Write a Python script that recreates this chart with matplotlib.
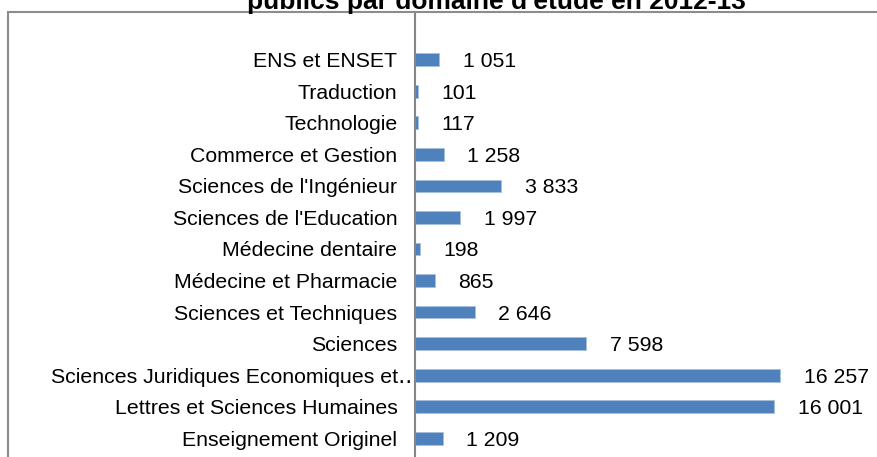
# Répartition des étudiants par domaine d'étude, 2012-13
import matplotlib
matplotlib.use('Agg')
from matplotlib import pyplot as plt
from matplotlib.patches import Rectangle

plt.rcParams['font.family'] = ['Liberation Sans', 'DejaVu Sans']

# données (de bas en haut)
domaines = [
    "Enseignement Originel",
    "Lettres et Sciences Humaines",
    "Sciences Juridiques Economiques et\u2025",
    "Sciences",
    "Sciences et Techniques",
    "Médecine et Pharmacie",
    "Médecine dentaire",
    "Sciences de l'Education",
    "Sciences de l'Ingénieur",
    "Commerce et Gestion",
    "Technologie",
    "Traduction",
    "ENS et ENSET",
]
effectifs = [1209, 16001, 16257, 7598, 2646, 865, 198, 1997, 3833, 1258, 117, 101, 1051]
etiquettes = ["1 209", "16 001", "16 257", "7 598", "2 646", "865", "198",
              "1 997", "3 833", "1 258", "117", "101", "1 051"]

W, H = 878, 457
fig = plt.figure(figsize=(W / 100, H / 100), dpi=100)

# cadre du graphique (coupé à droite et en bas)
fig.patches.append(Rectangle((8 / W, -0.1), 1.2, (H - 12) / H + 0.1,
                             transform=fig.transFigure, fill=False,
                             edgecolor='#8c8c8c', linewidth=1.5))

ax = fig.add_axes([415.5 / W, 0, 1 - 415.5 / W, (H - 12) / H])
ax.patch.set_alpha(0)

pos = list(range(len(domaines)))
ax.barh(pos, effectifs, height=0.41, color='#4F81BD', edgecolor='#A7C0DE', linewidth=0.6)

ax.set_xlim(0, 20620)
ax.set_ylim(-0.6, len(domaines) - 1 + 1.52)
ax.set_yticks(pos)
ax.set_yticklabels(domaines, fontsize=15.3)
ax.tick_params(axis='y', length=0, pad=13)
# le libellé tronqué déborde plus près de l'axe
ax.yaxis.get_major_ticks()[2].set_pad(2.5)
ax.set_xticks([])
for s in ['top', 'right', 'bottom']:
    ax.spines[s].set_visible(False)
ax.spines['left'].set_color('#868686')
ax.spines['left'].set_linewidth(1.5)

for p, v, t in zip(pos, effectifs, etiquettes):
    ax.annotate(t, (v, p), xytext=(17, 0), textcoords='offset points',
                va='center_baseline', ha='left', fontsize=15.3)

fig.text(496 / W, 1 - 9.5 / H, "publics par domaine d'étude en 2012-13",
         ha='center', va='baseline', fontsize=19, fontweight='bold')

plt.savefig('out.png', dpi=100)
